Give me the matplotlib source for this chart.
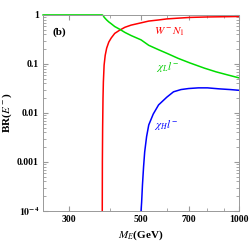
import matplotlib
matplotlib.use("Agg")
import matplotlib.pyplot as plt
from matplotlib.ticker import FixedLocator, NullFormatter

plt.rcParams["font.family"] = ["Liberation Serif", "DejaVu Serif"]
plt.rcParams["mathtext.fontset"] = "stix"

# W- N1 channel
m_wn = [380, 380.3, 381, 382, 383, 385, 388, 392, 398, 405, 415, 430, 446, 466,
        500, 528, 566, 600, 650, 706, 800, 900, 1000]
br_wn = [1e-4, 1e-3, 0.005, 0.02, 0.043, 0.095, 0.15, 0.21, 0.28, 0.34, 0.42, 0.49,
         0.56, 0.62, 0.69, 0.75, 0.79, 0.83, 0.86, 0.89, 0.91, 0.92, 0.93]

# chi_L l- channel
m_ll = [250, 300, 350, 380, 383, 385, 388, 392, 398, 405, 415, 430, 446, 466,
        500, 528, 566, 600, 650, 706, 783, 850, 920, 1000]
br_ll = [1, 1, 1, 1, 0.96, 0.9, 0.85, 0.79, 0.72, 0.66, 0.58, 0.51, 0.44, 0.38,
         0.31, 0.24, 0.195, 0.165, 0.13, 0.105, 0.082, 0.069, 0.06, 0.052]

# chi_H l- channel
m_hl = [500, 502, 505, 509, 513, 520, 528, 545, 566, 600, 629, 663, 700, 750,
        800, 870, 940, 1000]
br_hl = [1e-4, 1.5e-4, 3.4e-4, 8e-4, 0.0016, 0.0033, 0.0057, 0.0095, 0.0146, 0.021,
         0.027, 0.030, 0.0315, 0.0325, 0.0325, 0.031, 0.030, 0.029]

x_ticks = [300, 500, 700, 1000]
x_minor = [400, 600, 800, 900]
y_ticks = [1e-4, 1e-3, 1e-2, 1e-1, 1]
y_labels = [r"$\mathbf{10^{-4}}$", "0.001", "0.01", "0.1", "1"]

fig = plt.figure(figsize=(2.49, 2.45), dpi=100)
ax = fig.add_axes([0.173, 0.139, 0.787, 0.800])

ax.plot(m_wn, br_wn, color="#ff0000", lw=1.1)
ax.plot(m_ll, br_ll, color="#00dd00", lw=1.1, clip_on=False)
ax.plot(m_hl, br_hl, color="#0000ff", lw=1.1)

ax.set_xscale("log")
ax.set_yscale("log")
ax.set_xlim(250, 1000)
ax.set_ylim(1e-4, 1)

ax.xaxis.set_major_locator(FixedLocator(x_ticks))
ax.set_xticklabels([str(v) for v in x_ticks])
ax.xaxis.set_minor_locator(FixedLocator(x_minor))
ax.xaxis.set_minor_formatter(NullFormatter())
ax.yaxis.set_major_locator(FixedLocator(y_ticks))
ax.set_yticklabels(y_labels)

for s in ax.spines.values():
    s.set_color("#999999")
    s.set_linewidth(0.7)
ax.tick_params(which="both", direction="in", top=True, right=True,
               color="#999999", labelsize=7, pad=3)
ax.tick_params(which="major", length=3.5)
ax.tick_params(which="minor", length=2)
for lab in ax.get_xticklabels() + ax.get_yticklabels():
    lab.set_fontweight("bold")

ax.set_xlabel(r"$\boldsymbol{M_E}$(GeV)", fontsize=8, fontweight="bold", labelpad=3)
ax.set_ylabel(r"BR($\boldsymbol{E^-}$)", fontsize=8, fontweight="bold", labelpad=2)

ax.text(0.05, 0.9, "(b)", transform=ax.transAxes, fontsize=8, fontweight="bold")
ax.text(547, 0.40, r"$W^-N_1$", color="#ff0000", fontsize=8)
ax.text(555, 0.075, r"$\chi_L l^-$", color="#00cc00", fontsize=8)
ax.text(547, 0.0049, r"$\chi_H l^-$", color="#0000ff", fontsize=8)

fig.savefig("out.png", dpi=100)
